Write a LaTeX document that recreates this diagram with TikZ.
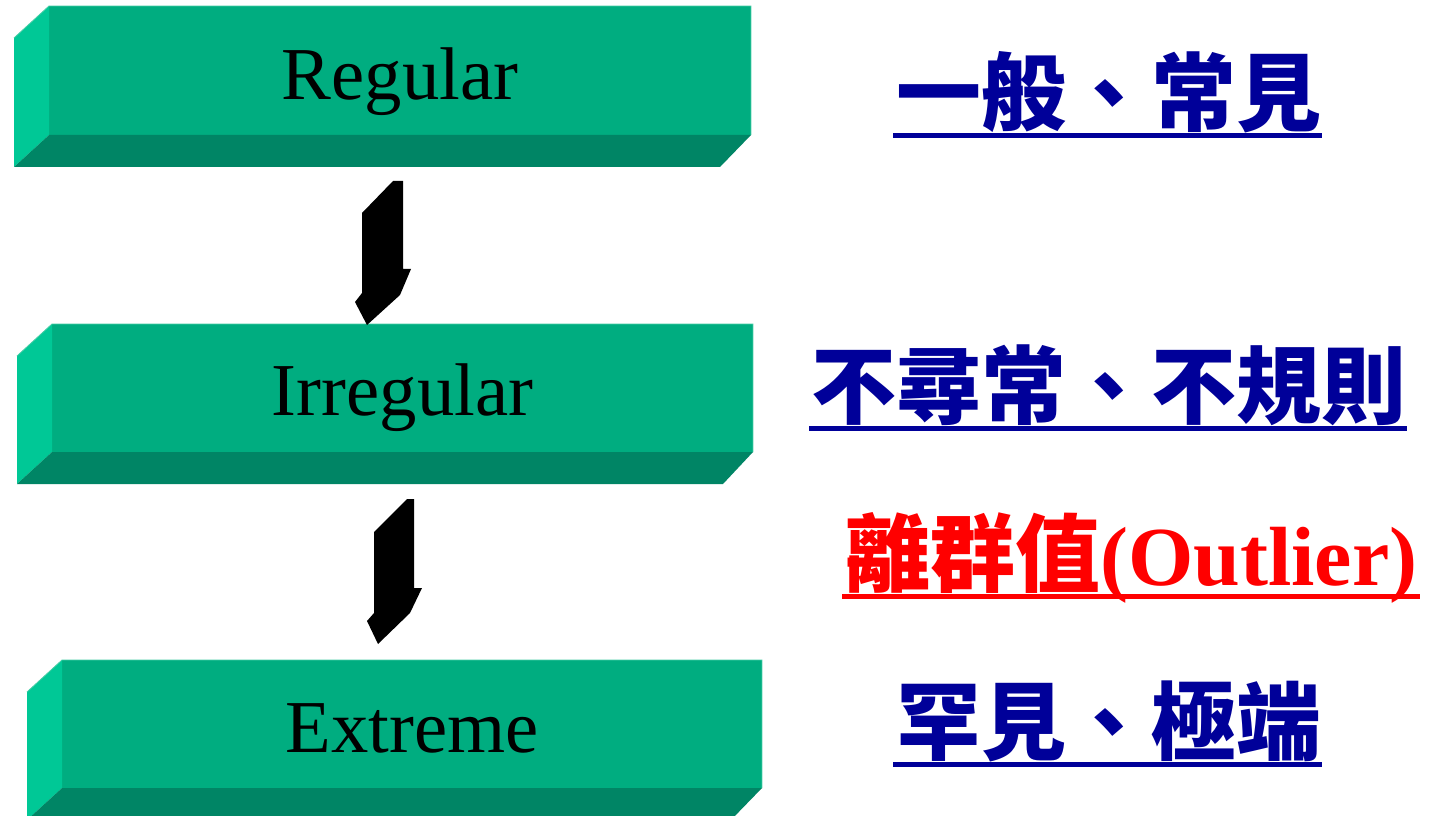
\documentclass[tikz,border=0pt]{standalone}
\usepackage{fontspec}
\setmainfont{Liberation Serif}
\newfontfamily\cjk{Noto Sans CJK TC}
\usetikzlibrary{calc}
\definecolor{frontgreen}{RGB}{0,173,128}
\definecolor{leftgreen}{RGB}{0,200,150}
\definecolor{bottomgreen}{RGB}{0,133,101}
\definecolor{edgegreen}{RGB}{70,205,165}
\definecolor{zhblue}{RGB}{0,0,153}
\definecolor{zhred}{RGB}{255,0,0}
\tikzset{
  boxtext/.style={inner sep=0pt, anchor=base, font=\fontsize{56pt}{60pt}\selectfont, text=black},
  zhtext/.style={inner sep=0pt, anchor=base west, font=\fontsize{63.75pt}{70pt}\selectfont\cjk\bfseries},
  uline/.style={line width=3.75pt},
  blockarrow/.style={fill=black}
}
\newcommand{\greenbox}[8]{%
  % #1 name, #2 x1, #3 y1, #4 x2, #5 y2, #6 bottom-right inset, #7 text, #8 baseline
  \fill[frontgreen] (#2,#3) rectangle (#4,#5);
  \fill[leftgreen] ({#2-35},{#3+32}) -- (#2,#3) -- (#2,#5) -- ({#2-35},{#5+32}) -- cycle;
  \fill[bottomgreen] ({#2-35},{#5+32}) -- (#2,#5) -- (#4,#5) -- ({#4-#6},{#5+32}) -- cycle;
  \draw[edgegreen, line width=0.6pt] ({#2-35},{#3+32}) -- (#2,#3) -- (#4,#3) -- (#4,#5);
  \node[boxtext] (#1) at ({(#2+#4)/2},#8) {#7};
}
\begin{document}
\begin{tikzpicture}[x=0.75pt,y=-0.75pt]
\useasboundingbox[fill=white] (0,0) rectangle (1433,816);

\greenbox{regular}{49}{6}{751}{135}{31}{Regular}{100}
\greenbox{irregular}{52}{324}{753}{452}{30}{Irregular}{415}
\greenbox{extreme}{62}{660}{762}{788}{31}{Extreme}{752}

% block arrows
\fill[blockarrow] (403,181) -- (393,181) -- (362,213) -- (362,293) -- (355,302) -- (367,325) -- (400,295) -- (411,269) -- (403,269) -- cycle;
\fill[blockarrow] (414,499) -- (407,499) -- (374,532) -- (374,613) -- (367,621) -- (378,644) -- (410,613) -- (422,588) -- (414,588) -- cycle;

% labels
\node[zhtext, text=zhblue] (l1) at (896,125) {一般、常見};
\draw[uline, zhblue] ($(l1.base west)+(-3,11)$) -- ($(l1.base east)+(0,11)$);

\node[zhtext, text=zhblue] (l2) at (811,417) {不尋常、不規則};
\draw[uline, zhblue] ($(l2.base west)+(-2,11)$) -- ($(l2.base east)+(0,11)$);

\node[zhtext, text=zhred] (l3) at (845,585) {離群值{\rmfamily\bfseries\fontsize{63pt}{70pt}\selectfont(Outlier)}};
\draw[uline, zhred] ($(l3.base west)+(-3,11)$) -- ($(l3.base east)+(2,11)$);

\node[zhtext, text=zhblue] (l4) at (896,753) {罕見、極端};
\draw[uline, zhblue] ($(l4.base west)+(-3,11)$) -- ($(l4.base east)+(0,11)$);
\end{tikzpicture}
\end{document}
